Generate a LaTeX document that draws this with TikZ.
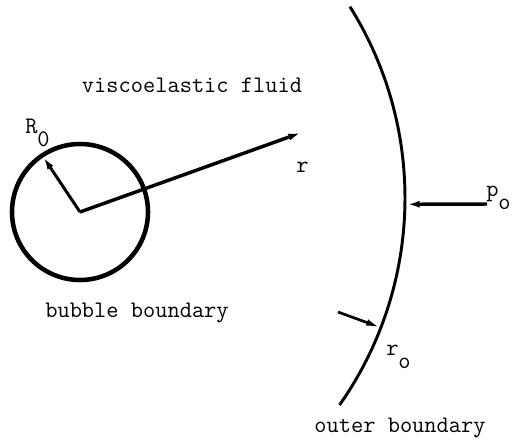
\documentclass[tikz,border=0pt]{standalone}
\usepackage{fontspec}
\usetikzlibrary{arrows.meta}
\newcommand{\sublbl}[2]{#1\raisebox{-.55em}{#2}}

\begin{document}
\begin{tikzpicture}[x=.75pt,y=-.75pt,font=\fontsize{17.8}{20}\selectfont\ttfamily,
    tip/.style={-{Latex[length=11pt,width=5pt]}},
    lbl/.style={inner sep=0pt,anchor=base west}]
  \useasboundingbox (0,0) rectangle (517,440);
  % bubble and its radii
  \coordinate (bc) at (80,212);
  \draw[line width=3.4pt] (bc) circle[radius=68];
  \path (bc) ++(-123.7:68) coordinate (Rtip);
  \coordinate (rtip) at (303,132);
  \draw[tip,line width=2.2pt] (bc) -- (Rtip);
  \draw[tip,line width=2.6pt] (bc) -- (rtip);
  % outer boundary
  \coordinate (oc) at (45,198);
  \draw[line width=2.2pt] (oc) ++(-32.1:360) arc[start angle=-32.1,end angle=35.1,radius=360];
  \path (oc) ++(1:360) coordinate (ptip);
  \path (oc) ++(21.1:360) coordinate (rotip);
  \coordinate (pstart) at (487,204);
  \coordinate (rostart) at (338,312);
  \draw[tip,line width=2.6pt] (pstart) -- (ptip);
  \draw[tip,line width=2pt] (rostart) -- (rotip);
  % labels
  \node (fluid) at (192,85) {viscoelastic fluid};
  \node (bubble) at (137,313) {bubble boundary};
  \node (outer) at (400,428) {outer boundary};
  \node[lbl] (Rlbl) at (25,133) {\sublbl{R}{0}};
  \node[lbl] (rlbl) at (296,172) {r};
  \node[lbl] (plbl) at (486,196) {\sublbl{p}{o}};
  \node[lbl] (rolbl) at (386,355) {\sublbl{r}{o}};
\end{tikzpicture}
\end{document}
